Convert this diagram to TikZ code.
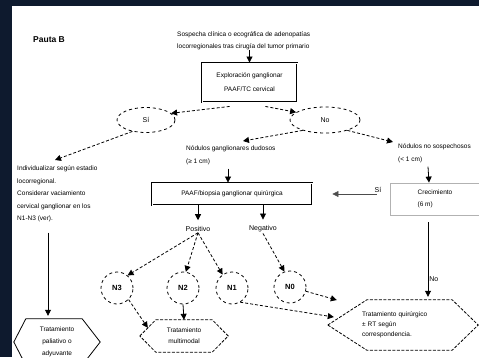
\documentclass[tikz,border=0pt]{standalone}
\usepackage{fontspec}
\setmainfont{Liberation Sans}
\usetikzlibrary{arrows.meta,calc,shapes.geometric}
\definecolor{navyband}{HTML}{0E1A2E}
\begin{document}
\begin{tikzpicture}[x=1pt,y=-1pt,
  tx/.style={align=left,inner sep=0pt,font=\fontsize{6.5}{12.5}\selectfont},
  dbox/.style={draw,double,line width=0.9pt,double distance=1pt,inner sep=0pt},
  gbox/.style={draw=gray!60,line width=0.8pt,inner sep=0pt},
  oval/.style={ellipse,draw,dashed,line width=0.8pt,inner sep=0pt,font=\fontsize{7}{8}\selectfont},
  circ/.style={circle,draw,dashed,line width=0.8pt,minimum size=32pt,inner sep=0pt,font=\fontsize{7.5}{8}\selectfont\bfseries},
  hexa/.style={draw=none,inner sep=0pt},
  hexline/.style={line width=0.8pt},
  arr/.style={-{Triangle[width=6pt,length=6pt]},line width=0.8pt},
  darr/.style={arr,dash pattern=on 3pt off 2pt},
  lbl/.style={font=\fontsize{7}{8}\selectfont,inner sep=1pt}]
\useasboundingbox (0,0) rectangle (479,357);
\fill[navyband] (0,0) rectangle (479,357);
\fill[white] (12,6) rectangle (479,357);

% title and top text
\node[anchor=west,font=\fontsize{8.5}{10}\selectfont\bfseries,inner sep=0pt] (pauta) at (33,40) {Pauta B};
\node[tx,anchor=west,font=\fontsize{6.5}{12}\selectfont] (top) at (177,41) {Sospecha clínica o ecográfica de adenopatías\\locorregionales tras cirugía del tumor primario};
\node[dbox,minimum width=95pt,minimum height=39pt,align=center,font=\fontsize{6.5}{14}\selectfont] (box1) at (249.5,82.5) {Exploración ganglionar\\PAAF/TC cervical};
\node[oval,minimum width=58pt,minimum height=25pt] (elSi) at (146,120) {Sí};
\node[oval,minimum width=70pt,minimum height=26pt] (elNo) at (325,120) {No};

% left branch
\node[tx,anchor=north west] (leftText) at (17,166) {Individualizar según estadio\\locorregional.\\Considerar vaciamiento\\cervical ganglionar en los\\N1-N3 (ver).};
\node[hexa,minimum width=86pt,minimum height=46pt,align=center,font=\fontsize{6.5}{12}\selectfont] (hexL) at (57,342) {Tratamiento\\paliativo o\\adyuvante};
\draw[hexline] (hexL.west) -- ([xshift=12pt]hexL.north west) -- ([xshift=-18pt]hexL.north east) -- (hexL.east) -- ([xshift=-18pt]hexL.south east) -- ([xshift=12pt]hexL.south west) -- cycle;

% middle / right texts
\node[tx,anchor=north west,font=\fontsize{6.5}{13}\selectfont] (midText) at (186,146) {Nódulos ganglionares dudosos\\(≥ 1 cm)};
\node[tx,anchor=north west,font=\fontsize{6.5}{13}\selectfont] (rightText) at (398,144) {Nódulos no sospechosos\\(< 1 cm)};
\node[dbox,minimum width=160pt,minimum height=22pt,font=\fontsize{6.5}{8}\selectfont] (wideBox) at (232,194) {PAAF/biopsia ganglionar quirúrgica};
\node[gbox,minimum width=90pt,minimum height=32pt,align=left,font=\fontsize{6.5}{12}\selectfont] (rightBox) at (435,199) {Crecimiento\\(6 m)};
\node[lbl] (posT) at (198,229) {Positivo};
\node[lbl] (negT) at (263,229) {Negativo};

% circles
\node[circ] (N3) at (117,288) {N3};
\node[circ] (N2) at (183,288) {N2};
\node[circ] (N1) at (232,288) {N1};
\node[circ] (N0) at (290,287) {N0};

% hexagons
\node[hexa,minimum width=88pt,minimum height=32pt,align=center,font=\fontsize{6.5}{11}\selectfont] (hexM) at (184,336) {Tratamiento\\multimodal};
\draw[hexline,dash pattern=on 3pt off 1.5pt] (hexM.west) -- ([xshift=16pt]hexM.north west) -- ([xshift=-16pt]hexM.north east) -- (hexM.east) -- ([xshift=-16pt]hexM.south east) -- ([xshift=16pt]hexM.south west) -- cycle;
\node[hexa,minimum width=150pt,minimum height=50pt,text width=92pt,align=left,font=\fontsize{6.5}{10}\selectfont] (hR) at (408,325) {Tratamiento quirúrgico\\± RT según\\correspondencia.};
\draw[hexline,dash pattern=on 3pt off 1.5pt] ([xshift=-5pt]hR.west) -- ([xshift=34pt]hR.north west) -- ([xshift=-31pt]hR.north east) -- ([xshift=-5pt]hR.east) -- ([xshift=-31pt]hR.south east) -- ([xshift=34pt]hR.south west) -- cycle;

% connectors
\draw[arr] (top.south -| box1.north) -- (box1.north);
\draw[darr] ([xshift=28pt,yshift=-4pt]box1.south west) -- (elSi.15);
\draw[darr] ([xshift=-32pt,yshift=-4pt]box1.south east) -- (elNo.165);
\draw[darr] (elSi.220) -- ([xshift=38pt,yshift=6pt]leftText.north west);
\draw[arr] ([xshift=31pt,yshift=-10pt]leftText.south west) -- ([xshift=-9pt,yshift=3pt]hexL.north);
\draw[darr] (elNo.205) -- ([xshift=57pt,yshift=5pt]midText.north west);
\draw[darr] (elNo.335) -- ([xshift=-5pt,yshift=2pt]rightText.north west);
\draw[arr] ([xshift=42pt,yshift=-3pt]midText.south west) -- ([xshift=-4pt]wideBox.north);
\draw[arr] ([xshift=30pt,yshift=-3pt]rightText.south west) -- ([xshift=-6pt]rightBox.north);
\draw[arr,draw=black!70,line width=0.6pt,shorten <=13pt,shorten >=20pt] (rightBox.west |- wideBox.east) -- node[lbl,above,pos=0.15] {Sí} (wideBox.east);
\draw[arr,shorten >=5pt] ([xshift=-34pt]wideBox.south) -- (posT.north);
\draw[arr,shorten >=5pt] ([xshift=31pt]wideBox.south) -- (negT.north);
\draw[darr] (posT.south) -- (N3.50);
\draw[darr] (posT.south) -- (N2.80);
\draw[darr] (posT.south) -- (N1.125);
\draw[darr] (negT.south) -- (N0.110);
\draw[darr] (N3.-45) -- ([xshift=8pt,yshift=-8pt]hexM.north west);
\draw[arr] (N2.south) -- (hexM.north);
\draw[darr] (N1.-60) -- ([xshift=1pt,yshift=8pt]hR.west);
\draw[darr] (N0.-15) -- ([xshift=4pt,yshift=25pt]hR.west);
\draw[arr,shorten <=7pt,shorten >=3pt] ([xshift=-7pt]rightBox.south) -- node[lbl,right,pos=0.75] {No} ([xshift=20pt]hR.north);
\end{tikzpicture}
\end{document}
